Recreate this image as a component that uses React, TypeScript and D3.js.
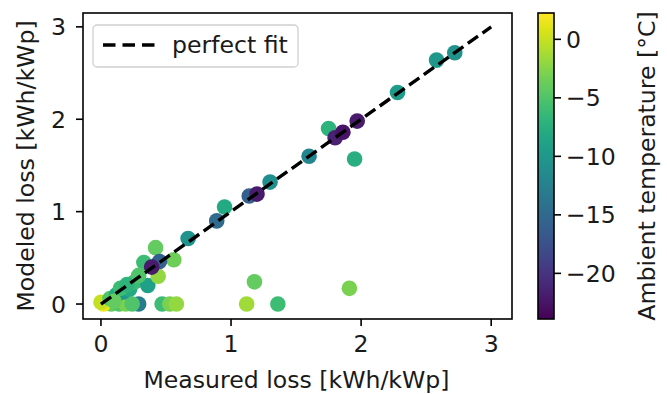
import React from "react";
import * as d3 from "d3";

const measured = [
  0.29, 0.08, 0.14, 0.19, 0.24, 0.47, 0.53, 0.58, 0.02, 0.0,
  0.07, 0.12, 0.17, 0.22, 0.26, 0.36, 0.44, 0.56, 0.42, 0.33, 0.45, 0.39,
  0.15, 0.20, 0.29, 0.10,
  1.12, 1.36, 1.18, 1.91,
  0.67, 0.89, 0.95, 1.14, 1.20, 1.30, 1.60, 1.95, 1.75, 1.80, 1.86, 1.97, 2.28, 2.58, 2.72,
];
const modeled = [
  0.0, 0.0, 0.0, 0.0, 0.0, 0.0, 0.0, 0.0, 0.0, 0.02,
  0.06, 0.10, 0.13, 0.16, 0.24, 0.20, 0.30, 0.48, 0.61, 0.45, 0.46, 0.40,
  0.17, 0.21, 0.31, 0.03,
  0.0, 0.0, 0.24, 0.17,
  0.71, 0.90, 1.05, 1.17, 1.19, 1.32, 1.60, 1.57, 1.90, 1.80, 1.86, 1.98, 2.29, 2.64, 2.72,
];
const temperature = [
  -13, -4, -5, -3, -5, -6, -3, -2, 1.5, 0,
  -5, -8, -10, -8, -6, -9, -2, -3.5, -4, -6, -16, -22,
  -6, -7, -5, -4,
  -1.5, -6, -4, -3,
  -10.5, -15, -8, -16, -22, -11, -12, -7.5, -7, -21.5, -22.5, -22, -9.5, -10, -10.5,
];
const axisTicks = [0, 1, 2, 3];
const cbTicks = [0, -5, -10, -15, -20];
const tempMin = -23.9;
const tempMax = 2.25;

const FONT = "DejaVu Sans";
const FS = 23.6;

export default function App() {
  const L = 83, R = 512, T = 13, B = 319;
  const x = d3.scaleLinear().domain([-0.138, 3.16]).range([L, R]);
  const y = d3.scaleLinear().domain([-0.162, 3.15]).range([B, T]);
  const cbL = 538, cbR = 554;
  const cy = d3.scaleLinear().domain([tempMin, tempMax]).range([B, T]);
  const color = d3.scaleSequential(d3.interpolateViridis).domain([tempMin, tempMax]);
  const stops = d3.range(0, 1.0001, 0.05);
  const pts = measured.map((m, i) => ({ m, o: modeled[i], t: temperature[i] }));
  const minus = (v: number) => (v < 0 ? "\u2212" + Math.abs(v) : String(v));

  return (
    <svg width={667} height={394} style={{ position: "absolute", left: 0, top: 0 }} fontFamily={FONT}>
      <defs>
        <linearGradient id="vir" x1="0" y1="1" x2="0" y2="0">
          {stops.map((s) => (
            <stop key={s} offset={s} stopColor={d3.interpolateViridis(s)} />
          ))}
        </linearGradient>
        <clipPath id="plot">
          <rect x={L} y={T} width={R - L} height={B - T} />
        </clipPath>
      </defs>
      <rect width={667} height={394} fill="white" />
      <g clipPath="url(#plot)">
        {pts.map((p, i) => (
          <circle key={i} cx={x(p.m)} cy={y(p.o)} r={7.8} fill={color(p.t)} />
        ))}
        <line x1={x(0)} y1={y(0)} x2={x(3)} y2={y(3)} stroke="black" strokeWidth={3.4} strokeDasharray="12.5,5.5" />
      </g>
      <rect x={L} y={T} width={R - L} height={B - T} fill="none" stroke="black" strokeWidth={1.6} />
      {axisTicks.map((t) => (
        <g key={"x" + t}>
          <line x1={x(t)} x2={x(t)} y1={B} y2={B + 7} stroke="black" strokeWidth={1.6} />
          <text x={x(t)} y={352} textAnchor="middle" fontSize={FS} fill="#1a1a1a">{t}</text>
        </g>
      ))}
      {axisTicks.map((t) => (
        <g key={"y" + t}>
          <line x1={L - 7} x2={L} y1={y(t)} y2={y(t)} stroke="black" strokeWidth={1.6} />
          <text x={66} y={y(t)} dy="0.36em" textAnchor="end" fontSize={FS} fill="#1a1a1a">{t}</text>
        </g>
      ))}
      <text x={(L + R) / 2 - 1} y={388} textAnchor="middle" fontSize={FS} fill="#1a1a1a">Measured loss [kWh/kWp]</text>
      <text transform={`translate(34,${(T + B) / 2}) rotate(-90)`} textAnchor="middle" fontSize={FS} fill="#1a1a1a">Modeled loss [kWh/kWp]</text>
      <rect x={cbL} y={T} width={cbR - cbL} height={B - T} fill="url(#vir)" stroke="black" strokeWidth={1.6} />
      {cbTicks.map((t) => (
        <g key={"c" + t}>
          <line x1={cbR} x2={cbR + 7} y1={cy(t)} y2={cy(t)} stroke="black" strokeWidth={1.6} />
          <text x={566} y={cy(t)} dy="0.36em" textAnchor="start" fontSize={FS} fill="#1a1a1a">{minus(t)}</text>
        </g>
      ))}
      <text transform={`translate(655,${(T + B) / 2}) rotate(-90)`} textAnchor="middle" fontSize={FS} fill="#1a1a1a">Ambient temperature [°C]</text>
      <rect x={93} y={25} width={205} height={42} rx={4} fill="white" fillOpacity={0.85} stroke="#d0d0d0" strokeWidth={1.3} />
      <line x1={103} x2={155} y1={45} y2={45} stroke="black" strokeWidth={3.4} strokeDasharray="12.5,7" />
      <text x={172} y={53} fontSize={FS} fill="#1a1a1a">perfect fit</text>
    </svg>
  );
}
